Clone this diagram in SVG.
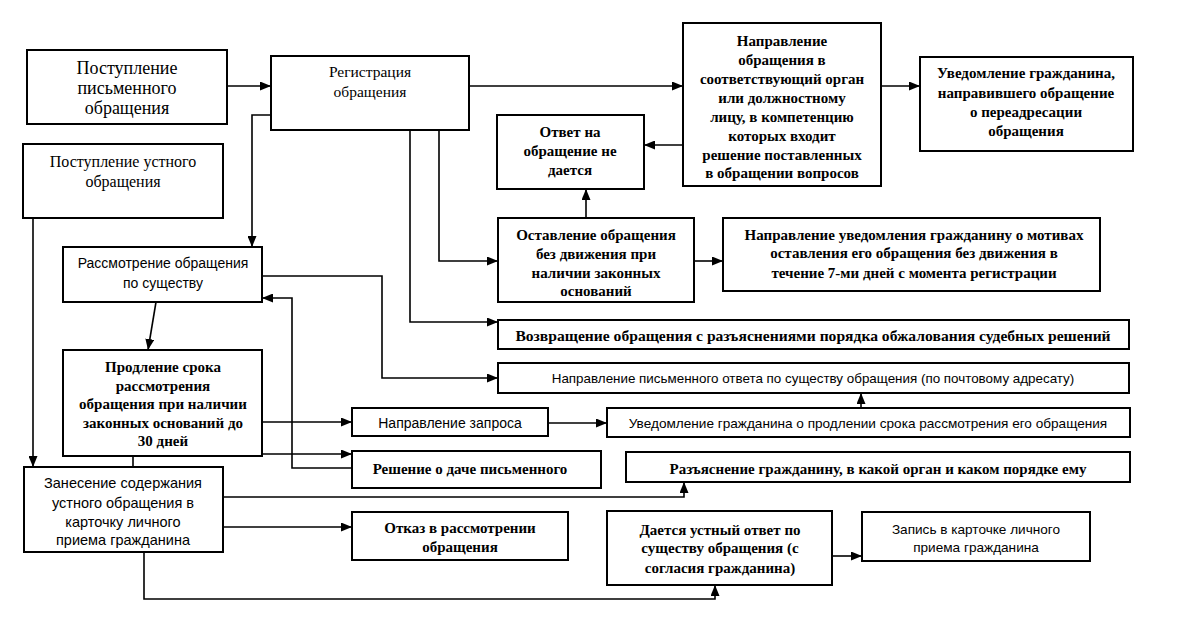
<svg xmlns="http://www.w3.org/2000/svg" width="1177" height="618" viewBox="0 0 1177 618">
<defs>
<marker id="ah" markerWidth="11" markerHeight="9" refX="11" refY="4.5" orient="auto" markerUnits="userSpaceOnUse">
<path d="M0,0 L11,4.5 L0,9 z" fill="#000"/>
</marker>
<style>
rect{fill:#fff;stroke:#000;stroke-width:2}
.c path{fill:none;stroke:#000;stroke-width:1.6;marker-end:url(#ah)}
text{fill:#000;text-anchor:middle}
.s{font-family:"Liberation Serif","Times New Roman",serif;font-size:15px;font-weight:bold}
.sn{font-family:"Liberation Serif","Times New Roman",serif;font-size:16px}
.a{font-family:"Liberation Sans",Arial,sans-serif;font-size:14px}
</style>
</defs>
<rect x="0" y="0" width="1177" height="618" style="fill:#fff;stroke:none"/>
<g class="c" id="connectors">
<path d="M227,86 H271"/>
<path d="M271,115 H252 V247"/>
<path d="M469,86 H683"/>
<path d="M881,86 H920"/>
<path d="M683,145 H644"/>
<path d="M586,218 V189"/>
<path d="M439,130 V261 H498"/>
<path d="M694,261 H723"/>
<path d="M410,130 V322 H498"/>
<path d="M262,276 H382 V378 H498"/>
<path d="M156,302 L148,350"/>
<path d="M352,468 H292 V298 H262"/>
<path d="M262,422 H352"/>
<path d="M548,423 H607"/>
<path d="M861,408 V393"/>
<path d="M133,467 V454 H352"/>
<path d="M223,497 H684 V482"/>
<path d="M223,527 H352"/>
<path d="M144,552 V599 H715 V585"/>
<path d="M832,556 H862"/>
<path d="M33,218 V467"/>
</g>
<g id="n1"><rect x="27" y="50" width="200" height="74"/>
<text class="sn" style="font-size:18px"><tspan x="127" y="74">Поступление</tspan><tspan x="127" y="94">письменного</tspan><tspan x="127" y="114">обращения</tspan></text></g>
<g id="n2"><rect x="23" y="144" width="200" height="74"/>
<text class="sn"><tspan x="123" y="167">Поступление устного</tspan><tspan x="123" y="187">обращения</tspan></text></g>
<g id="n3"><rect x="271" y="56" width="198" height="74"/>
<text class="sn" style="font-size:15.5px"><tspan x="370" y="77">Регистрация</tspan><tspan x="370" y="97">обращения</tspan></text></g>
<g id="n4"><rect x="497" y="115" width="147" height="74"/>
<text class="s"><tspan x="570" y="137">Ответ на</tspan><tspan x="570" y="156">обращение не</tspan><tspan x="570" y="175">дается</tspan></text></g>
<g id="n5"><rect x="683" y="23" width="198" height="163"/>
<text class="s"><tspan x="782" y="46">Направление</tspan><tspan x="782" y="65">обращения в</tspan><tspan x="782" y="84">соответствующий орган</tspan><tspan x="782" y="103">или должностному</tspan><tspan x="782" y="122">лицу, в компетенцию</tspan><tspan x="782" y="141">которых входит</tspan><tspan x="782" y="160">решение поставленных</tspan><tspan x="782" y="178">в обращении вопросов</tspan></text></g>
<g id="n6"><rect x="920" y="57" width="213" height="94"/>
<text class="s"><tspan x="1026" y="78">Уведомление гражданина,</tspan><tspan x="1026" y="98">направившего обращение</tspan><tspan x="1026" y="117">о переадресации</tspan><tspan x="1026" y="136">обращения</tspan></text></g>
<g id="n7"><rect x="498" y="218" width="196" height="84"/>
<text class="s"><tspan x="596" y="240">Оставление обращения</tspan><tspan x="596" y="259">без движения при</tspan><tspan x="596" y="278">наличии законных</tspan><tspan x="596" y="296">оснований</tspan></text></g>
<g id="n8"><rect x="723" y="218" width="377" height="73"/>
<text class="s"><tspan x="914" y="240">Направление уведомления гражданину о мотивах</tspan><tspan x="914" y="258">оставления его обращения без движения в</tspan><tspan x="914" y="278">течение 7-ми дней с момента регистрации</tspan></text></g>
<g id="n9"><rect x="498" y="320" width="631" height="29"/>
<text class="s" style="font-size:15.6px" x="813" y="341">Возвращение обращения с разъяснениями порядка обжалования судебных решений</text></g>
<g id="n10"><rect x="498" y="363" width="631" height="30"/>
<text class="a" style="font-size:13.4px" x="813" y="383">Направление письменного ответа по существу обращения (по почтовому адресату)</text></g>
<g id="n11"><rect x="63" y="247" width="199" height="55"/>
<text class="a"><tspan x="163" y="268">Рассмотрение обращения</tspan><tspan x="163" y="288">по существу</tspan></text></g>
<g id="n12"><rect x="63" y="350" width="199" height="106"/>
<text class="s"><tspan x="163" y="372">Продление срока</tspan><tspan x="163" y="391">рассмотрения</tspan><tspan x="163" y="409">обращения при наличии</tspan><tspan x="163" y="428">законных оснований до</tspan><tspan x="163" y="446">30 дней</tspan></text></g>
<g id="n13"><rect x="352" y="408" width="196" height="28"/>
<text class="a" x="450" y="428">Направление запроса</text></g>
<g id="n14"><rect x="607" y="408" width="523" height="29"/>
<text class="a" style="font-size:13.6px" x="868" y="428">Уведомление гражданина о продлении срока рассмотрения его обращения</text></g>
<g id="n15"><rect x="352" y="451" width="249" height="37"/>
<text class="s" x="470" y="474">Решение о даче письменного</text></g>
<g id="n16"><rect x="626" y="452" width="504" height="30"/>
<text class="s" x="878" y="474">Разъяснение гражданину, в какой орган и каком порядке ему</text></g>
<g id="n17"><rect x="352" y="512" width="216" height="48"/>
<text class="s"><tspan x="460" y="533">Отказ в рассмотрении</tspan><tspan x="460" y="552">обращения</tspan></text></g>
<g id="n18"><rect x="607" y="511" width="225" height="74"/>
<text class="s"><tspan x="720" y="535">Дается устный ответ по</tspan><tspan x="720" y="553">существу обращения (с</tspan><tspan x="720" y="573">согласия гражданина)</tspan></text></g>
<g id="n19"><rect x="862" y="512" width="228" height="49"/>
<text class="a" style="font-size:13.6px"><tspan x="976" y="534">Запись в карточке личного</tspan><tspan x="976" y="552">приема гражданина</tspan></text></g>
<g id="n20"><rect x="24" y="467" width="199" height="85"/>
<text class="a" style="font-size:14.5px"><tspan x="123" y="488">Занесение содержания</tspan><tspan x="123" y="508">устного обращения в</tspan><tspan x="123" y="527">карточку личного</tspan><tspan x="123" y="545">приема гражданина</tspan></text></g>
</svg>
